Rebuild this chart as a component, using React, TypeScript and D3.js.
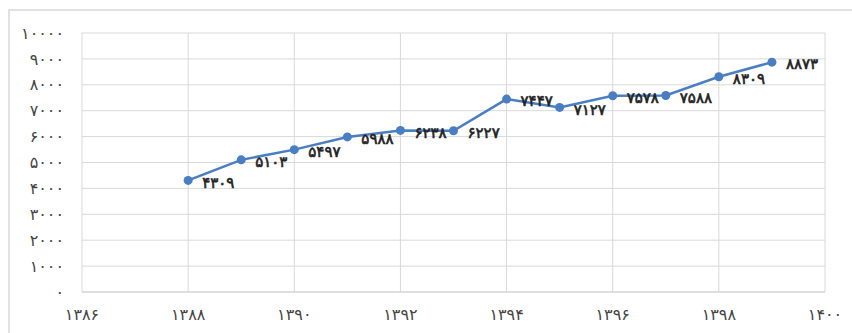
import React from "react";
import * as d3 from "d3";

const years = [1388, 1389, 1390, 1391, 1392, 1393, 1394, 1395, 1396, 1397, 1398, 1399];
const values = [4309, 5103, 5497, 5988, 6238, 6227, 7447, 7127, 7578, 7588, 8309, 8873];
const xTicks = [1386, 1388, 1390, 1392, 1394, 1396, 1398, 1400];
const yTicks = [0, 1000, 2000, 3000, 4000, 5000, 6000, 7000, 8000, 9000, 10000];

const fa = (n: number) => String(n).replace(/\d/g, (d) => "۰۱۲۳۴۵۶۷۸۹"[+d]);

export default function App() {
  const W = 852, H = 333;
  const x = d3.scaleLinear().domain([1386, 1400]).range([82, 825]);
  const y = d3.scaleLinear().domain([0, 10000]).range([292, 33]);
  const line = d3.line<number>().x((_, i) => x(years[i])).y((v) => y(v));
  const color = "#4a7ec2";
  const font = "'DejaVu Sans', sans-serif";
  return (
    <svg width={W} height={H} style={{ position: "absolute", left: 0, top: 0 }}>
      <rect x={0} y={0} width={W} height={H} fill="#fff" />
      <rect x={9} y={10} width={W + 20} height={H + 20} fill="none" stroke="#d9d9d9" strokeWidth={1.5} />
      {yTicks.map((t) => (
        <line key={"h" + t} x1={82} x2={825} y1={y(t)} y2={y(t)} stroke={t === 0 ? "#bfbfbf" : "#d9d9d9"} strokeWidth={1} />
      ))}
      {xTicks.map((t) => (
        <line key={"v" + t} x1={x(t)} x2={x(t)} y1={33} y2={292} stroke="#d9d9d9" strokeWidth={1} />
      ))}
      {yTicks.map((t) => (
        <text key={"yl" + t} x={64} y={y(t)} dy="0.35em" textAnchor="end" fontFamily={font} fontSize={16} letterSpacing={1.5} fill="#444">
          {fa(t)}
        </text>
      ))}
      {xTicks.map((t) => (
        <text key={"xl" + t} x={x(t)} y={314} dy="0.35em" textAnchor="middle" fontFamily={font} fontSize={16} letterSpacing={1.5} fill="#444">
          {fa(t)}
        </text>
      ))}
      <path d={line(values) || ""} fill="none" stroke={color} strokeWidth={2.5} />
      {values.map((v, i) => (
        <circle key={"c" + i} cx={x(years[i])} cy={y(v)} r={4.5} fill={color} />
      ))}
      {values.map((v, i) => (
        <text key={"l" + i} x={x(years[i]) + 14} y={y(v) + 2} dy="0.35em" textAnchor="start" fontFamily={font} fontSize={15} stroke="#222" strokeWidth={0.6} letterSpacing={2.2} fill="#222">
          {fa(v)}
        </text>
      ))}
    </svg>
  );
}
